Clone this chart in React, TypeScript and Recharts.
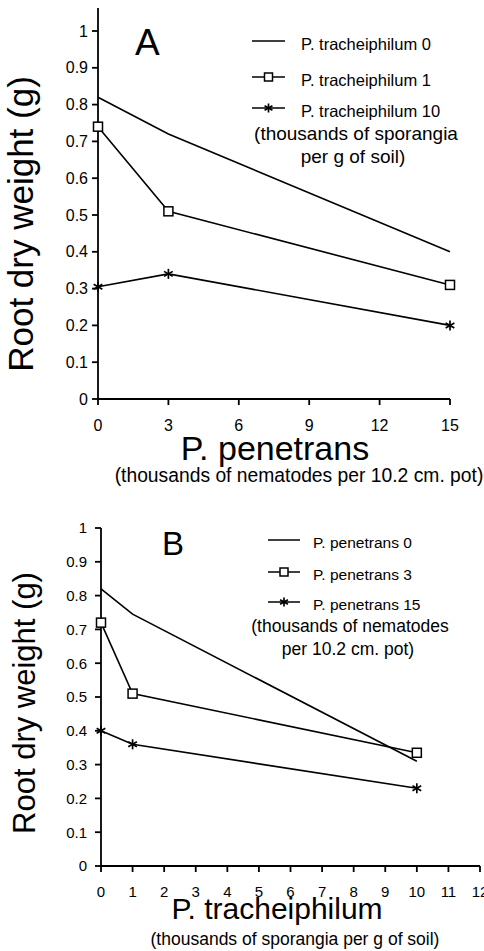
import { LineChart, Line, XAxis, YAxis, Legend, Label } from "recharts";

const FONT = '"Liberation Sans", Arial, Helvetica, sans-serif';
const INK = "#000";

// panel A: root weight against P. penetrans, one line per P. tracheiphilum level
const penetransLevels = [0, 3, 15];
const trach0Weight = [0.82, 0.72, 0.4];
const trach1Weight = [0.74, 0.51, 0.31];
const trach10Weight = [0.305, 0.34, 0.2];
const penetransTicks = [0, 3, 6, 9, 12, 15];

// panel B: root weight against P. tracheiphilum, one line per P. penetrans level
const trachLevels = [0, 1, 10];
const pen0Weight = [0.82, 0.745, 0.31];
const pen3Weight = [0.72, 0.51, 0.335];
const pen15Weight = [0.4, 0.36, 0.23];
const trachTicks = [0, 1, 2, 3, 4, 5, 6, 7, 8, 9, 10, 11, 12];

const weightTicks = [0, 0.1, 0.2, 0.3, 0.4, 0.5, 0.6, 0.7, 0.8, 0.9, 1];

type Mark = "none" | "square" | "star";
type Series = { key: string; name: string; mark: Mark; values: number[] };

const seriesA: Series[] = [
  { key: "t0", name: "P. tracheiphilum 0", mark: "none", values: trach0Weight },
  { key: "t1", name: "P. tracheiphilum 1", mark: "square", values: trach1Weight },
  { key: "t10", name: "P. tracheiphilum 10", mark: "star", values: trach10Weight },
];
const seriesB: Series[] = [
  { key: "p0", name: "P. penetrans 0", mark: "none", values: pen0Weight },
  { key: "p3", name: "P. penetrans 3", mark: "square", values: pen3Weight },
  { key: "p15", name: "P. penetrans 15", mark: "star", values: pen15Weight },
];

const notesA = ["(thousands of sporangia", "per g of soil)"];
const notesB = ["(thousands of nematodes", "per 10.2 cm. pot)"];

const toRows = (xs: number[], series: Series[]) =>
  xs.map((x, i) => {
    const row: Record<string, number> = { x };
    series.forEach((s) => (row[s.key] = s.values[i]));
    return row;
  });

const dataA = toRows(penetransLevels, seriesA);
const dataB = toRows(trachLevels, seriesB);

function Square({ cx, cy, size = 4.5 }: any) {
  if (cx == null || cy == null) return null;
  return (
    <rect
      x={cx - size}
      y={cy - size}
      width={size * 2}
      height={size * 2}
      fill="#fff"
      stroke={INK}
      strokeWidth={1.5}
    />
  );
}

function Star({ cx, cy, r = 5 }: any) {
  if (cx == null || cy == null) return null;
  const a = r * 0.87;
  const b = r * 0.5;
  return (
    <g stroke={INK} strokeWidth={1.7}>
      <line x1={cx} y1={cy - r} x2={cx} y2={cy + r} />
      <line x1={cx - a} y1={cy - b} x2={cx + a} y2={cy + b} />
      <line x1={cx - a} y1={cy + b} x2={cx + a} y2={cy - b} />
    </g>
  );
}

const dotFor = (mark: Mark): any => {
  if (mark === "square") return (p: any) => <Square key={p.index} cx={p.cx} cy={p.cy} />;
  if (mark === "star") return (p: any) => <Star key={p.index} cx={p.cx} cy={p.cy} />;
  return false;
};

type Spot = { text: string; size: number; dx: number; dy: number; anchor?: string; rotate?: boolean };

// text placed relative to the axis box it belongs to
const placed = (s: Spot) => (props: any) => {
  const vb = props.viewBox || { x: 0, y: 0 };
  const x = vb.x + s.dx;
  const y = vb.y + s.dy;
  return (
    <text
      x={x}
      y={y}
      fontSize={s.size}
      fontFamily={FONT}
      fill={INK}
      textAnchor={s.anchor || "middle"}
      transform={s.rotate ? `rotate(-90 ${x} ${y})` : undefined}
    >
      {s.text}
    </text>
  );
};

type KeyLayout = {
  w: number;
  h: number;
  x0: number;
  x1: number;
  textX: number;
  rows: number[];
  base: number;
  size: number;
  noteX: number[];
  noteY: number[];
  noteSize: number;
};

function SeriesKey({ series, notes, k }: { series: Series[]; notes: string[]; k: KeyLayout }) {
  const mid = (k.x0 + k.x1) / 2;
  return (
    <svg width={k.w} height={k.h} style={{ display: "block" }}>
      {series.map((s, i) => {
        const y = k.rows[i];
        return (
          <g key={s.key}>
            <line x1={k.x0} x2={k.x1} y1={y} y2={y} stroke={INK} strokeWidth={1.5} />
            {s.mark === "square" && <Square cx={mid} cy={y} size={4} />}
            {s.mark === "star" && <Star cx={mid} cy={y} r={4.5} />}
            <text x={k.textX} y={y + k.base} fontSize={k.size} fontFamily={FONT} fill={INK}>
              {s.name}
            </text>
          </g>
        );
      })}
      {notes.map((n, i) => (
        <text
          key={n}
          x={k.noteX[i]}
          y={k.noteY[i]}
          textAnchor="middle"
          fontSize={k.noteSize}
          fontFamily={FONT}
          fill={INK}
        >
          {n}
        </text>
      ))}
    </svg>
  );
}

const keyA: KeyLayout = {
  w: 244, h: 160, x0: 12, x1: 45, textX: 61, rows: [21, 57, 88], base: 9, size: 16.5,
  noteX: [116, 113], noteY: [120, 143], noteSize: 19,
};
const keyB: KeyLayout = {
  w: 234, h: 150, x0: 18, x1: 50, textX: 63, rows: [20, 52, 82], base: 7.5, size: 15.5,
  noteX: [100, 98], noteY: [112, 135], noteSize: 17.5,
};

export default function App() {
  return (
    <div style={{ position: "absolute", left: 0, top: 0, width: 484, height: 951, background: "#fff" }}>
      <LineChart width={484} height={490} data={dataA} margin={{ top: 8, right: 34, bottom: 30, left: 0 }}>
        <XAxis
          type="number"
          dataKey="x"
          domain={[0, 15]}
          ticks={penetransTicks}
          interval={0}
          height={61}
          stroke={INK}
          strokeWidth={1.8}
          tickSize={6}
          tickMargin={15}
          tick={{ fill: INK, fontSize: 16, fontFamily: FONT }}
        >
          <Label content={placed({ text: "P. penetrans", size: 34, dx: 177, dy: 61 })} />
          <Label
            content={placed({ text: "(thousands of nematodes per 10.2 cm. pot)", size: 19.3, dx: 201, dy: 83 })}
          />
        </XAxis>
        <YAxis
          type="number"
          domain={[0, 1.0625]}
          ticks={weightTicks}
          interval={0}
          width={98}
          stroke={INK}
          strokeWidth={1.8}
          tickSize={6}
          tickMargin={4}
          tick={{ fill: INK, fontSize: 16, fontFamily: FONT }}
        >
          <Label content={placed({ text: "Root dry weight (g)", size: 35, dx: 33, dy: 216, rotate: true })} />
          <Label content={placed({ text: "A", size: 37, dx: 135, dy: 47, anchor: "start" })} />
        </YAxis>
        {seriesA.map((s) => (
          <Line
            key={s.key}
            type="linear"
            dataKey={s.key}
            name={s.name}
            stroke={INK}
            strokeWidth={1.6}
            dot={dotFor(s.mark)}
            activeDot={false}
            isAnimationActive={false}
          />
        ))}
        <Legend
          layout="vertical"
          align="center"
          verticalAlign="middle"
          wrapperStyle={{ left: 240, top: 20, width: 244, height: 160 }}
          content={() => <SeriesKey series={seriesA} notes={notesA} k={keyA} />}
        />
      </LineChart>

      <LineChart width={484} height={461} data={dataB} margin={{ top: 38, right: 4, bottom: 0, left: 0 }}>
        <XAxis
          type="number"
          dataKey="x"
          domain={[0, 12]}
          ticks={trachTicks}
          interval={0}
          height={85}
          stroke={INK}
          strokeWidth={1.8}
          tickSize={6}
          tickMargin={14}
          tick={{ fill: INK, fontSize: 15, fontFamily: FONT }}
        >
          <Label content={placed({ text: "P. tracheiphilum", size: 30, dx: 176, dy: 53 })} />
          <Label
            content={placed({ text: "(thousands of sporangia per g of soil)", size: 17.5, dx: 194, dy: 79 })}
          />
        </XAxis>
        <YAxis
          type="number"
          domain={[0, 1]}
          ticks={weightTicks}
          interval={0}
          width={101}
          stroke={INK}
          strokeWidth={1.8}
          tickSize={6}
          tickMargin={8}
          tick={{ fill: INK, fontSize: 15, fontFamily: FONT }}
        >
          <Label content={placed({ text: "Root dry weight (g)", size: 31, dx: 35, dy: 175, rotate: true })} />
          <Label content={placed({ text: "B", size: 33, dx: 162, dy: 27, anchor: "start" })} />
        </YAxis>
        {seriesB.map((s) => (
          <Line
            key={s.key}
            type="linear"
            dataKey={s.key}
            name={s.name}
            stroke={INK}
            strokeWidth={1.6}
            dot={dotFor(s.mark)}
            activeDot={false}
            isAnimationActive={false}
          />
        ))}
        <Legend
          layout="vertical"
          align="center"
          verticalAlign="middle"
          wrapperStyle={{ left: 250, top: 30, width: 234, height: 150 }}
          content={() => <SeriesKey series={seriesB} notes={notesB} k={keyB} />}
        />
      </LineChart>
    </div>
  );
}
